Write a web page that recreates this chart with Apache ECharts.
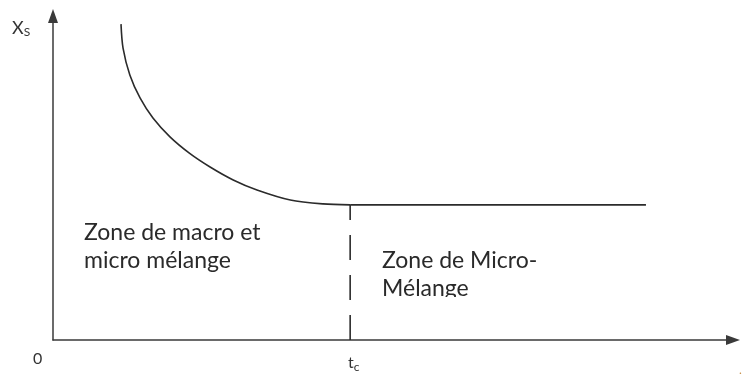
<!DOCTYPE html>
<html>
<head>
<meta charset="utf-8">
<script src="https://cdn.jsdelivr.net/npm/echarts@6/dist/echarts.min.js"></script>
<style>html,body{margin:0;padding:0;background:#fff}#c{width:742px;height:385px}</style>
</head>
<body>
<div id="c"></div>
<script>
// Curve Xs(t): decreasing part (macro + micro mixing zone)
const curveX = [10.0, 10.3, 11.3, 12.8, 14.7, 17.2, 20.1, 23.1, 26.5, 30.0, 34.9, 39.7, 43.7];
const curveY = [97.5, 90.1, 81.8, 74.7, 68.5, 62.7, 57.6, 53.4, 49.4, 46.3, 43.2, 42.0, 41.7];
// Plateau after tc (micro-mixing zone)
const plateauX = [43.7, 87.2];
const plateauY = [41.7, 41.7];
// Critical time tc
const tcX = 43.7;
const tcY = [0, 41.7];
// Texts
const yAxisName = ['X', 'S'];
const xTickLabels = ['0', 't', 'c'];
const zoneLeft = ['Zone de macro et', 'micro mélange'];
const zoneRight = ['Zone de Micro-', 'Mélange'];

const chart = echarts.init(document.getElementById('c'), null, {renderer: 'canvas'});
const axisCol = '#3a3a3a';
const font = 'Lato, "Open Sans", sans-serif';

chart.setOption({
  animation: false,
  backgroundColor: '#fff',
  grid: {left: 53, right: 9, top: 16, bottom: 45},
  xAxis: {
    type: 'value', min: 0, max: 100,
    axisLine: {show: true, symbol: ['none', 'triangle'], symbolSize: [10, 14],
      lineStyle: {color: axisCol, width: 1.5}},
    axisTick: {show: false}, axisLabel: {show: false}, splitLine: {show: false}
  },
  yAxis: {
    type: 'value', min: 0, max: 100,
    axisLine: {show: true, symbol: ['none', 'triangle'], symbolSize: [10, 14],
      lineStyle: {color: axisCol, width: 1.5}},
    axisTick: {show: false}, axisLabel: {show: false}, splitLine: {show: false}
  },
  series: [
    {
      type: 'line', smooth: 0.3, symbol: 'none',
      data: curveX.map((x, i) => [x, curveY[i]]),
      lineStyle: {color: '#2b2b2b', width: 1.6}
    },
    {
      type: 'line', symbol: 'none',
      data: plateauX.map((x, i) => [x, plateauY[i]]),
      lineStyle: {color: '#2b2b2b', width: 1.6}
    },
    {
      type: 'line', symbol: 'none',
      data: tcY.map(y => [tcX, y]),
      lineStyle: {color: '#2b2b2b', width: 1.6, type: [25, 15]}
    }
  ],
  graphic: [
    {type: 'text', left: 12, top: 19, style: {
      text: '{a|' + yAxisName[0] + '}{b|' + yAxisName[1] + '}',
      rich: {a: {fontSize: 18, fontFamily: font, fill: '#333'},
             b: {fontSize: 12, fontFamily: font, fill: '#333', padding: [9, 0, 0, 0]}}
    }},
    {type: 'text', left: 33, top: 351, style: {text: xTickLabels[0], fontSize: 16, fontFamily: font, fill: '#333'}},
    {type: 'text', left: 348, top: 355, style: {
      text: '{a|' + xTickLabels[1] + '}{b|' + xTickLabels[2] + '}',
      rich: {a: {fontSize: 16, fontFamily: font, fill: '#333'},
             b: {fontSize: 12, fontFamily: font, fill: '#333', padding: [8, 0, 0, 0]}}
    }},
    {type: 'text', left: 84, top: 219, style: {text: zoneLeft.join('\n'), fontSize: 23, lineHeight: 28, fontFamily: font, fill: '#2a2a2a'}},
    {type: 'text', left: 382, top: 247, style: {text: zoneRight.join('\n'), fontSize: 23, lineHeight: 28, fontFamily: font, fill: '#2a2a2a'}},
    {type: 'rect', left: 376, top: 297, shape: {width: 180, height: 16}, style: {fill: '#fff'}, z: 200},
    {type: 'text', left: 739, top: 364, style: {text: '.', fontSize: 12, fontFamily: font, fill: '#c8904a'}}
  ]
});
</script>
</body>
</html>
